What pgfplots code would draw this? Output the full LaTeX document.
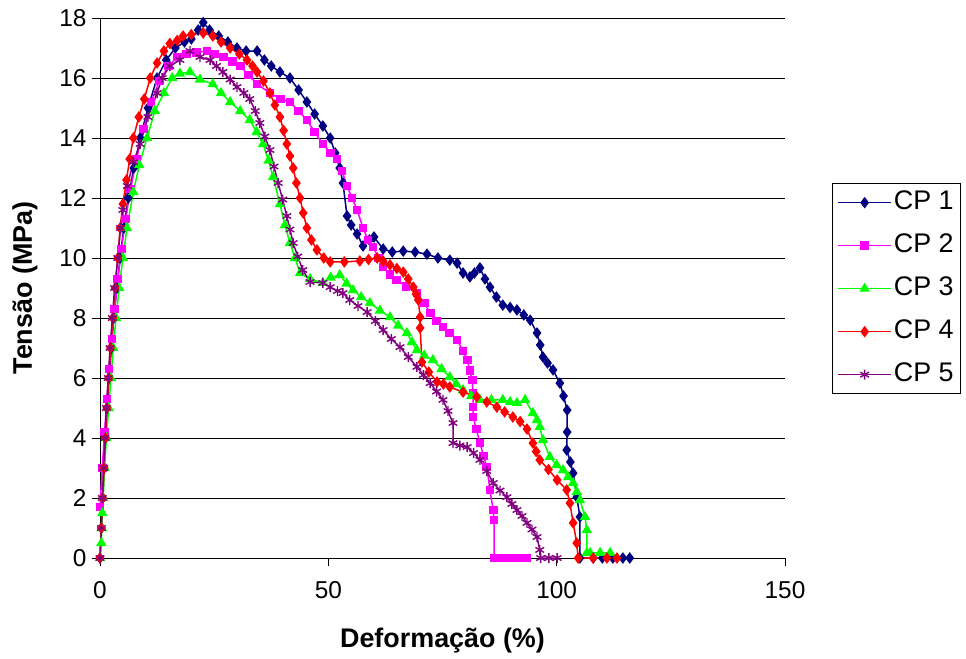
\documentclass[border=0pt]{standalone}
\usepackage{pgfplots}
\pgfplotsset{compat=1.18}
\usepackage{fontspec}
\setmainfont{Liberation Sans}
\definecolor{cpnavy}{RGB}{0,0,128}
\definecolor{cpmag}{RGB}{255,0,255}
\definecolor{cpgreen}{RGB}{0,255,0}
\definecolor{cpred}{RGB}{255,0,0}
\definecolor{cppurple}{RGB}{128,0,128}
\begin{document}
\begin{tikzpicture}
\path[use as bounding box] (0,0) rectangle (966bp,-659bp);
\begin{axis}[
  at={(100bp,-558bp)}, anchor=south west,
  scale only axis, width=685bp, height=540bp,
  xmin=0, xmax=150, ymin=0, ymax=18,
  xtick={0,50,100,150}, ytick={0,2,...,18},
  axis x line=bottom, axis y line=left,
  axis line style={-, line width=1bp, black},
  tick align=outside, major tick length=8bp,
  tick style={black, line width=0.8bp},
  ymajorgrids, grid style={black, line width=0.9bp},
  /pgf/number format/assume math mode=true,
  ticklabel style={font=\fontsize{24.5}{24.5}\selectfont},
  xticklabel style={yshift=-12bp},
  yticklabel style={xshift=-2bp},
  xlabel={\textbf{Deformação (\%)}},
  ylabel={\textbf{Tensão (MPa)}},
  label style={font=\fontsize{27}{27}\selectfont},
  xlabel style={at={(axis description cs:0.5,-0.152)}, anchor=center},
  ylabel style={at={(axis description cs:-0.1095,0.5)}, anchor=center},
  clip=false,
  legend style={draw=black, line width=0.8bp, fill=white,
    at={(1.0686,0.694)}, anchor=north west,
    inner xsep=5bp, inner ysep=5bp, row sep=15bp,
    font=\fontsize{27}{27}\selectfont,
    nodes={inner sep=2bp, text height=19bp, text depth=5bp}},
  legend cell align=left,
  legend image code/.code={\draw[mark repeat=2,mark phase=2,#1] plot coordinates {(0bp,0bp)(26.5bp,0bp)(53bp,0bp)};},
  every axis plot/.append style={line width=1.5bp},
]
\addplot[color=cpnavy, mark=diamond*, mark size=4.6bp, mark options={solid}] coordinates {
(0,0) (0.3,1) (0.6,2) (0.9,3) (1.2,4) (1.6,5) (2,6) (2.5,7) (3,8) (3.7,9) (4.4,10) (5.2,11) (6.2,12) (7.4,13) (8.8,14) (10.5,15) (12.5,16) (14.5,16.6) (16.5,17.0) (18.5,17.2) (20,17.3) (21.5,17.6) (22.6,17.85) (24,17.6) (26,17.4) (28,17.2) (30,17.0) (32,16.9) (34.4,16.9) (36,16.6) (37.5,16.4) (39.4,16.2) (41.6,16.0) (43.5,15.6) (45.3,15.2) (47,14.8) (48.8,14.4) (50.4,14.0) (51.5,13.5) (52.5,13.0) (53.2,12.5) (54.1,11.4) (55,11.1) (56.3,10.8) (57.6,10.4) (59,10.6) (60,10.7) (62,10.3) (64,10.2) (66.4,10.23) (69,10.2) (71.6,10.13) (74,10.0) (76.6,9.93) (78.2,9.83) (79.5,9.5) (81,9.37) (82,9.5) (83.2,9.67) (84.3,9.3) (85.4,9.03) (86.8,8.7) (88.2,8.43) (89.8,8.35) (91.3,8.27) (92.8,8.1) (94.2,7.93) (95.7,7.5) (96.4,7.1) (97,6.7) (98,6.5) (99.2,6.27) (100.7,5.83) (101.5,5.4) (102.3,4.93) (102.3,4.2) (102.2,3.6) (103,3.2) (103.6,2.83) (104.4,2.03) (105.1,1.37) (105.1,0) (108,0) (110,0) (112.3,0) (114.5,0) (116,0)
};
\addlegendentry{CP 1}
\addplot[color=cpmag, mark=square*, mark size=3.6bp, mark options={solid}] coordinates {
(0,1.7) (0.5,3) (1,4.2) (1.5,5.3) (2,6.3) (2.6,7.3) (3.2,8.3) (3.9,9.3) (4.7,10.3) (5.6,11.3) (6.7,12.3) (8,13.3) (9.5,14.3) (11.2,15.2) (13,15.9) (15,16.4) (17,16.7) (19,16.8) (21.2,16.85) (23.4,16.9) (25,16.8) (27,16.7) (29,16.55) (30.7,16.4) (32.5,16.1) (34.4,15.8) (37.2,15.5) (39.5,15.3) (41.6,15.2) (43.5,14.9) (45.3,14.6) (47,14.2) (48.8,13.8) (50.5,13.5) (51.9,13.3) (53,12.9) (54.1,12.4) (55.2,12.0) (56.3,11.6) (57.6,11.0) (58.7,10.6) (59.8,10.37) (61,10.0) (62,9.7) (63.5,9.45) (65,9.27) (67,9.05) (69.4,8.83) (71,8.5) (72.3,8.17) (73.7,7.9) (75.1,7.7) (76.6,7.5) (78.2,7.27) (79.5,6.9) (80.4,6.6) (81,6.25) (81.5,5.93) (81.7,5.5) (81.7,5.03) (81.7,4.7) (82.4,4.3) (83.2,3.83) (84,3.4) (84.7,3.03) (85.4,2.27) (86.1,1.6) (86.3,1.27) (86.3,0) (87.5,0) (89.1,0) (90.5,0) (92,0) (93.5,0)
};
\addlegendentry{CP 2}
\addplot[color=cpgreen, mark=triangle*, mark size=4.6bp, mark options={solid}] coordinates {
(0,0) (0.3,0.5) (0.4,1) (0.5,1.5) (0.7,2) (1.0,3) (1.4,4) (1.9,5) (2.4,6) (2.9,7) (3.5,8) (4.2,9) (5.0,10) (5.9,11) (7.3,12.2) (8.6,13.1) (10.3,14.0) (12,14.9) (14,15.5) (15.8,16.0) (17.5,16.15) (19.7,16.2) (21.9,15.95) (24.7,15.8) (26.5,15.5) (28.5,15.2) (30.7,14.9) (32.8,14.6) (34.3,14.2) (35.7,13.8) (36.9,13.25) (37.9,12.7) (39.4,11.8) (40.5,11.1) (41.6,10.5) (42.7,10.0) (43.8,9.5) (46,9.3) (48.8,9.17) (50.5,9.35) (52.5,9.43) (54,9.15) (55.4,8.93) (57.2,8.7) (59.1,8.5) (61.3,8.25) (63.5,8.03) (65.3,7.75) (67.2,7.5) (68.3,7.2) (69.4,6.93) (71,6.75) (72.9,6.6) (74.8,6.3) (76.6,6.03) (78,5.8) (79.5,5.6) (81.3,5.4) (83.2,5.27) (85.7,5.27) (88.2,5.27) (89.8,5.2) (91.3,5.17) (93.1,5.27) (94.8,4.83) (95.7,4.6) (96.3,4.37) (97,3.93) (98.5,3.37) (100,3.1) (101.4,2.93) (102.5,2.7) (103.6,2.5) (104.4,2.2) (105.1,1.93) (106.2,1.37) (106.6,0.93) (106.6,0.17) (107.3,0.17) (109.5,0.17) (111.7,0.17)
};
\addlegendentry{CP 3}
\addplot[color=cpred, mark=diamond*, mark size=4.6bp, mark options={solid}] coordinates {
(0,0) (0.3,1) (0.6,2) (0.9,3) (1.2,4) (1.5,5) (1.9,6) (2.3,7) (2.8,8) (3.3,9) (3.9,10) (4.4,11) (5.0,11.8) (5.8,12.6) (6.5,13.3) (7.3,14.0) (8.5,14.7) (9.7,15.3) (11,16) (12.5,16.5) (14,16.9) (15.3,17.15) (16.9,17.25) (18.2,17.4) (20,17.45) (22.6,17.5) (24.7,17.4) (26.5,17.2) (28.5,17.0) (30.5,16.8) (32.2,16.6) (33.4,16.4) (34.4,16.2) (35.8,15.9) (37.2,15.5) (38.3,15.1) (39.4,14.7) (40.2,14.25) (40.9,13.8) (41.6,13.4) (42.3,13.0) (43.0,12.5) (43.8,12.0) (44.5,11.5) (45.3,11.0) (46.3,10.6) (47.5,10.27) (49,10.0) (50.4,9.87) (53.5,9.87) (56.9,9.9) (58.8,9.95) (60.7,10.0) (62,9.9) (63.5,9.77) (65,9.65) (66.4,9.53) (67.5,9.3) (68.6,9.03) (69.2,8.8) (69.7,8.6) (70.1,8.03) (70.1,7.67) (70.5,6.53) (72,6.2) (73.8,5.87) (75.2,5.8) (76.6,5.7) (79.5,5.53) (82.5,5.37) (84.7,5.2) (86.9,5.03) (88.6,4.87) (90.4,4.7) (92,4.55) (93.5,4.3) (94.8,3.83) (95.5,3.55) (96.3,3.27) (98.2,2.95) (100.1,2.6) (102.2,2.27) (102.9,1.83) (103.6,1.17) (104.4,0.5) (104.7,0) (108,0) (111,0) (113.2,0)
};
\addlegendentry{CP 4}
\addplot[color=cppurple, mark=asterisk, mark size=5bp, mark options={solid, line width=1.4bp}] coordinates {
(0,0) (0.3,1) (0.5,2) (0.8,3) (1.1,4) (1.4,5) (1.8,6) (2.2,7) (2.7,8) (3.2,9) (3.9,10) (4.5,11) (5.0,11.6) (6.0,12.4) (7.3,13.2) (8.8,13.8) (10.5,14.7) (12.5,15.5) (13.6,16.0) (15.3,16.4) (17.5,16.6) (19.7,16.9) (21.9,16.7) (24.1,16.6) (25.5,16.4) (26.9,16.2) (28.5,15.95) (30,15.7) (31.5,15.5) (32.8,15.3) (34,14.9) (35,14.5) (36.1,14.05) (37.2,13.6) (38.1,13.05) (39,12.5) (40,11.95) (40.9,11.4) (41.6,10.95) (42.3,10.5) (43.3,10.05) (44.4,9.6) (46,9.2) (48.8,9.17) (50.4,9.03) (52,8.9) (53.2,8.83) (54.7,8.6) (56.5,8.4) (58.5,8.2) (60.3,7.9) (62,7.6) (63.8,7.3) (65.7,7.03) (67.5,6.7) (69.4,6.37) (70.8,6.1) (72.3,5.83) (73.7,5.55) (75.1,5.27) (76.2,4.9) (77.3,4.5) (77.3,3.83) (78.8,3.75) (80.4,3.7) (81.8,3.5) (83.2,3.27) (84.7,2.9) (86.1,2.5) (87.6,2.25) (89.1,2.03) (90.2,1.8) (91.3,1.6) (92.4,1.4) (93.5,1.17) (94.6,0.95) (95.7,0.7) (96.3,0.27) (96.5,0) (98.3,0) (100.1,0)
};
\addlegendentry{CP 5}
\end{axis}
\end{tikzpicture}
\end{document}
